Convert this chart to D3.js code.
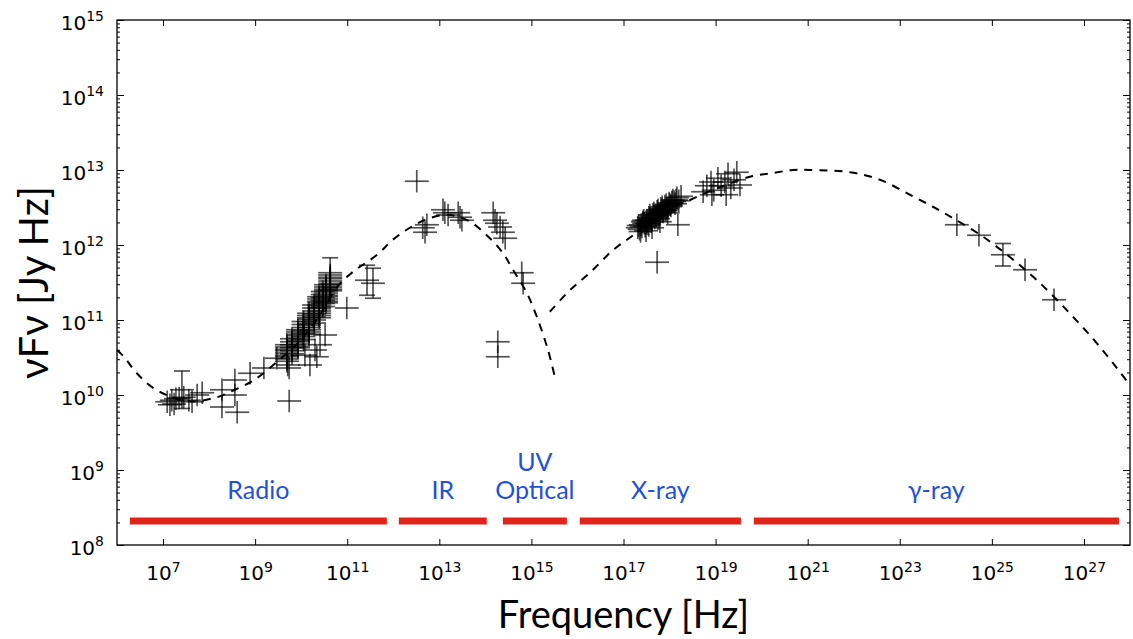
<!DOCTYPE html>
<html>
<head>
<meta charset="utf-8">
<script src="https://cdn.jsdelivr.net/npm/d3@7"></script>
<style>
  body { margin: 0; background: #fff; }
  svg { display: block; }
</style>
</head>
<body>
<div id="chart"></div>
<script>
// all values are log10: [log nu (Hz), log nuFnu (Jy Hz), optional y error]
const radioPoints = [
    [7.09, 9.91], [7.15, 9.87], [7.19, 9.93], [7.24, 9.88], [7.28, 9.95], [7.35, 9.96],
    [7.41, 10.07, 0.25], [7.45, 9.97], [7.56, 9.93], [7.63, 9.91], [7.74, 10.00], [7.85, 10.03],
    [8.28, 10.07], [8.28, 9.84], [8.61, 9.77], [8.56, 10.20], [8.56, 10.00], [8.89, 10.29],
    [9.19, 10.36], [9.47, 10.49], [9.74, 10.36], [9.74, 9.92], [10.19, 10.40],
    [10.08, 10.53], [10.30, 10.60], [10.41, 10.67], [10.52, 10.80], [10.34, 10.51], [9.71, 10.40],
    [10.99, 11.16], [11.43, 11.53, 0.2], [11.56, 11.49, 0.2]
];
// the densely sampled radio monitoring data
const radioDense = [
    [9.69, 10.67], [9.69, 10.64], [9.69, 10.61], [9.69, 10.59], [9.69, 10.56], [9.69, 10.53],
    [9.69, 10.51], [9.69, 10.48], [9.69, 10.45],
    [9.80, 10.75], [9.80, 10.71], [9.80, 10.67], [9.80, 10.63], [9.80, 10.59], [9.80, 10.55],
    [9.93, 10.87], [9.93, 10.84], [9.93, 10.81], [9.93, 10.79], [9.93, 10.76], [9.93, 10.73],
    [9.93, 10.71], [9.93, 10.68], [9.93, 10.65], [9.93, 10.63],
    [10.05, 10.98], [10.05, 10.94], [10.05, 10.90], [10.05, 10.86], [10.05, 10.82], [10.05, 10.78], [10.05, 10.74],
    [10.17, 11.09], [10.17, 11.06], [10.17, 11.03], [10.17, 11.01], [10.17, 10.98], [10.17, 10.95],
    [10.17, 10.93], [10.17, 10.90], [10.17, 10.87], [10.17, 10.84], [10.17, 10.81],
    [10.28, 11.20], [10.28, 11.16], [10.28, 11.12], [10.28, 11.08], [10.28, 11.04], [10.28, 11.00], [10.28, 10.96],
    [10.39, 11.31], [10.39, 11.28], [10.39, 11.25], [10.39, 11.23], [10.39, 11.20], [10.39, 11.17],
    [10.39, 11.15], [10.39, 11.12], [10.39, 11.09], [10.39, 11.06], [10.39, 11.03],
    [10.47, 11.38], [10.47, 11.34], [10.47, 11.30], [10.47, 11.26], [10.47, 11.22], [10.47, 11.18],
    [10.54, 11.47], [10.54, 11.44], [10.54, 11.41], [10.54, 11.39], [10.54, 11.36], [10.54, 11.33],
    [10.54, 11.31], [10.54, 11.28], [10.54, 11.25], [10.54, 11.23],
    [10.63, 11.63, 0.2], [10.63, 11.60], [10.63, 11.57], [10.63, 11.55], [10.63, 11.52], [10.63, 11.49],
    [10.63, 11.47], [10.63, 11.44], [10.63, 11.41], [10.63, 11.39]
];
const irPoints = [
    [12.51, 12.85], [12.64, 12.23], [12.69, 12.17], [12.73, 12.27],
    [13.08, 12.47], [13.12, 12.43], [13.19, 12.40], [13.41, 12.43], [13.45, 12.37], [13.49, 12.33],
    [14.17, 12.43], [14.21, 12.33], [14.25, 12.29], [14.32, 12.24], [14.38, 12.17], [14.43, 12.09],
    [14.79, 11.63], [14.82, 11.49], [14.27, 10.71], [14.27, 10.51]
];
const xrayPoints = [
    [17.31, 12.23], [17.38, 12.27], [17.42, 12.31], [17.47, 12.25], [17.51, 12.33], [17.55, 12.37],
    [17.60, 12.31], [17.64, 12.41], [17.68, 12.36], [17.73, 12.45], [17.77, 12.40], [17.81, 12.49],
    [17.86, 12.44], [17.90, 12.52], [17.94, 12.48], [17.99, 12.56], [18.03, 12.52], [18.07, 12.60],
    [18.12, 12.55], [18.16, 12.63], [18.20, 12.59], [18.25, 12.65], [17.49, 12.19], [17.62, 12.23],
    [17.79, 12.31], [17.96, 12.43], [17.35, 12.21], [17.45, 12.29], [17.58, 12.35], [17.70, 12.40],
    [17.84, 12.47], [17.92, 12.46], [18.01, 12.54], [18.10, 12.58], [17.40, 12.24], [17.53, 12.28],
    [17.33, 12.26], [17.44, 12.33], [17.50, 12.29], [17.57, 12.40], [17.62, 12.34], [17.66, 12.43],
    [17.71, 12.38], [17.75, 12.47], [17.80, 12.42], [17.84, 12.51], [17.88, 12.46], [17.93, 12.54],
    [17.97, 12.50], [18.05, 12.57], [18.14, 12.60], [17.37, 12.18], [17.55, 12.26], [17.75, 12.35],
    [17.73, 11.77], [18.18, 12.27],
    [18.73, 12.71], [18.81, 12.79], [18.90, 12.84], [18.96, 12.73], [19.05, 12.89], [19.12, 12.79],
    [19.20, 12.84], [19.27, 12.95], [19.33, 12.76], [19.40, 12.87], [19.46, 12.97], [19.53, 12.80],
    [18.92, 12.67], [19.23, 12.67]
];
const gammaPoints = [
    [24.24, 12.27], [24.72, 12.13], [25.24, 11.87, 0.15], [25.72, 11.67], [26.35, 11.27]
];
const XERR = 0.26; // dex
const YERR = 0.15; // dex

// dashed model curves
const syncCurve = [
    [6.00, 10.60], [6.15, 10.51], [6.43, 10.29], [6.80, 10.09], [7.48, 9.92], [8.11, 9.96],
    [8.56, 10.07], [8.98, 10.20], [9.47, 10.44], [9.97, 10.72], [10.41, 11.07], [10.78, 11.44],
    [11.12, 11.64], [11.65, 11.87], [11.99, 12.07], [12.36, 12.23], [12.80, 12.36], [13.23, 12.40],
    [13.67, 12.31], [14.03, 12.13], [14.36, 11.91], [14.60, 11.67], [14.90, 11.36], [15.12, 11.04],
    [15.36, 10.60], [15.51, 10.24]
];
const icCurve = [
    [15.40, 11.11], [15.84, 11.40], [16.27, 11.63], [16.77, 11.93], [17.21, 12.13], [17.79, 12.40],
    [18.44, 12.60], [19.09, 12.77], [19.75, 12.91], [20.25, 12.96], [20.68, 13.00], [21.05, 13.00],
    [21.92, 12.97], [22.57, 12.87], [23.22, 12.67], [23.72, 12.51], [24.15, 12.36], [24.81, 12.11],
    [25.39, 11.84], [25.98, 11.53], [26.69, 11.09], [27.35, 10.64], [27.95, 10.17]
];

// wavebands: [name lines, log nu start, log nu end]
const bandNames = [['Radio'], ['IR'], ['UV', 'Optical'], ['X-ray'], ['γ-ray']];
const bandStart = [6.28, 12.12, 14.38, 16.05, 19.83];
const bandEnd = [11.86, 14.03, 15.77, 19.55, 27.76];
const BAND_LEVEL = 8.32;

const xTicks = [7, 9, 11, 13, 15, 17, 19, 21, 23, 25, 27];
const yTicks = [8, 9, 10, 11, 12, 13, 14, 15];

const W = 1133, H = 639;
const LEFT = 117, RIGHT = 1130, TOP = 20, BOTTOM = 545;

const svg = d3.select('#chart')
    .append('svg')
    .attr('width', W)
    .attr('height', H);

const xScale = d3.scaleLog()
    .domain([1e6, 1e28])
    .range([LEFT, RIGHT]);

const yScale = d3.scaleLog()
    .domain([1e8, 1e15])
    .range([BOTTOM, TOP]);

const px = v => xScale(Math.pow(10, v));
const py = v => yScale(Math.pow(10, v));

// minor y ticks
const yMinor = [];
for (let e = 8; e < 15; e++) {
    for (let k = 2; k <= 9; k++) yMinor.push(k * Math.pow(10, e));
}

// Axes (ticks pointing inward)
function supLabel(sel, exps) {
    sel.selectAll('.tick text').each(function(d, i) {
        const t = d3.select(this).text('');
        t.append('tspan').text('10');
        t.append('tspan').attr('dy', '-0.6em').attr('font-size', '14px').text(exps[i]);
    });
}

const xAxis = d3.axisBottom(xScale)
    .tickValues(xTicks.map(e => Math.pow(10, e)))
    .tickSizeInner(-6).tickSizeOuter(0).tickPadding(15);
const gx = svg.append('g')
    .attr('class', 'x-axis')
    .attr('transform', `translate(0, ${BOTTOM})`)
    .call(xAxis);
supLabel(gx, xTicks);

svg.append('g')
    .attr('transform', `translate(0, ${TOP})`)
    .call(d3.axisTop(xScale).tickValues(xTicks.map(e => Math.pow(10, e)))
        .tickSizeInner(-6).tickSizeOuter(0).tickFormat(''));

const yAxis = d3.axisLeft(yScale)
    .tickValues(yTicks.map(e => Math.pow(10, e)))
    .tickSizeInner(-7).tickSizeOuter(0).tickPadding(13);
const gy = svg.append('g')
    .attr('class', 'y-axis')
    .attr('transform', `translate(${LEFT}, 0)`)
    .call(yAxis);
supLabel(gy, yTicks);

svg.append('g')
    .attr('transform', `translate(${LEFT}, 0)`)
    .call(d3.axisLeft(yScale).tickValues(yMinor).tickSizeInner(-3).tickSizeOuter(0).tickFormat(''));
svg.append('g')
    .attr('transform', `translate(${RIGHT}, 0)`)
    .call(d3.axisRight(yScale).tickValues(yTicks.map(e => Math.pow(10, e)))
        .tickSizeInner(-7).tickSizeOuter(0).tickFormat(''));
svg.append('g')
    .attr('transform', `translate(${RIGHT}, 0)`)
    .call(d3.axisRight(yScale).tickValues(yMinor).tickSizeInner(-3).tickSizeOuter(0).tickFormat(''));

svg.selectAll('.domain').remove();
svg.selectAll('.tick line').attr('stroke', '#000').attr('stroke-width', 1);
svg.selectAll('.tick text')
    .attr('font-family', 'DejaVu Sans, sans-serif')
    .attr('font-size', '20px')
    .attr('fill', '#000');
gx.selectAll('.tick text').attr('dy', '1em');
gy.selectAll('.tick text').attr('dy', '0.45em');

// frame
svg.append('rect')
    .attr('x', LEFT).attr('y', TOP)
    .attr('width', RIGHT - LEFT).attr('height', BOTTOM - TOP)
    .attr('fill', 'none').attr('stroke', '#000').attr('stroke-width', 1.3);

// Model curves
const line = d3.line()
    .x(d => px(d[0]))
    .y(d => py(d[1]))
    .curve(d3.curveCatmullRom.alpha(0.5));

[syncCurve, icCurve].forEach(c => {
    svg.append('path')
        .attr('d', line(c))
        .attr('fill', 'none')
        .attr('stroke', '#000')
        .attr('stroke-width', 2)
        .attr('stroke-dasharray', '8,7');
});

// Data crosses
const allPoints = radioPoints.concat(radioDense, irPoints, xrayPoints, gammaPoints);
const pts = svg.append('g')
    .attr('stroke', '#000')
    .attr('stroke-opacity', 0.68)
    .attr('stroke-width', 1.7);

allPoints.forEach(d => {
    const ye = d[2] || YERR;
    const g = pts.append('g');
    g.append('line')
        .attr('x1', px(d[0] - XERR)).attr('x2', px(d[0] + XERR))
        .attr('y1', py(d[1])).attr('y2', py(d[1]));
    g.append('line')
        .attr('x1', px(d[0])).attr('x2', px(d[0]))
        .attr('y1', py(d[1] - ye)).attr('y2', py(d[1] + ye));
    if (d[2]) {
        [d[1] - ye, d[1] + ye].forEach(v => {
            g.append('line')
                .attr('x1', px(d[0]) - 8).attr('x2', px(d[0]) + 8)
                .attr('y1', py(v)).attr('y2', py(v));
        });
    }
});

// Wavebands
bandNames.forEach((names, i) => {
    svg.append('line')
        .attr('x1', px(bandStart[i])).attr('x2', px(bandEnd[i]))
        .attr('y1', py(BAND_LEVEL)).attr('y2', py(BAND_LEVEL))
        .attr('stroke', '#e2231a')
        .attr('stroke-width', 7);
    const cx = (px(bandStart[i]) + px(bandEnd[i])) / 2;
    names.forEach((n, j) => {
        svg.append('text')
            .attr('x', cx)
            .attr('y', py(BAND_LEVEL) - 22 - (names.length - 1 - j) * 28)
            .attr('text-anchor', 'middle')
            .attr('font-family', 'Lato, sans-serif')
            .attr('font-size', '25px')
            .attr('fill', '#1f52d6')
            .text(n);
    });
});

// Axis titles
svg.append('text')
    .attr('x', (LEFT + RIGHT) / 2)
    .attr('y', 628)
    .attr('text-anchor', 'middle')
    .attr('font-family', 'Lato, sans-serif')
    .attr('font-size', '38px')
    .text('Frequency [Hz]');

svg.append('text')
    .attr('transform', `translate(48, ${(TOP + BOTTOM) / 2}) rotate(-90)`)
    .attr('text-anchor', 'middle')
    .attr('font-family', 'Lato, sans-serif')
    .attr('font-size', '40px')
    .text('νFν [Jy Hz]');
</script>
</body>
</html>
